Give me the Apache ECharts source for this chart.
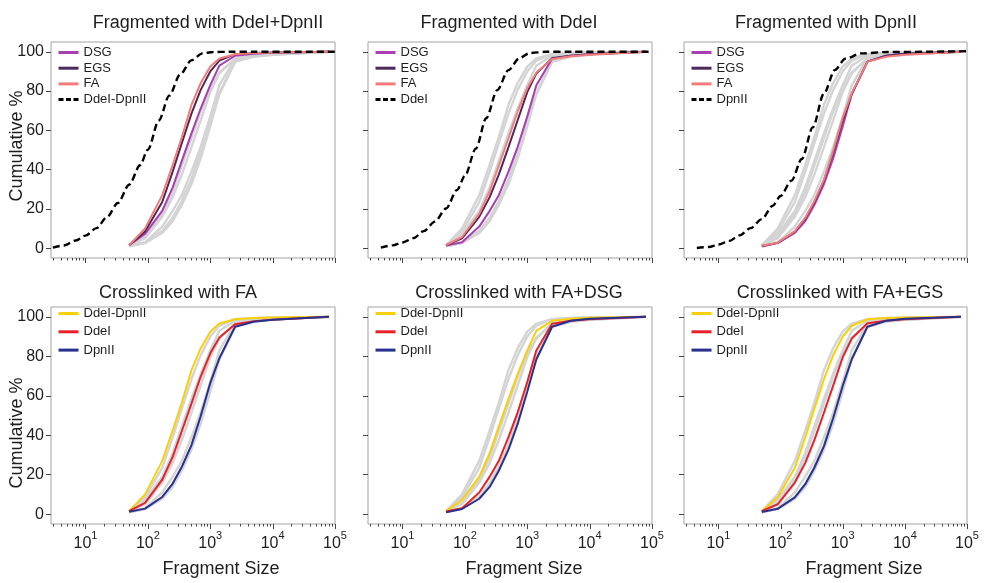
<!DOCTYPE html>
<html><head><meta charset="utf-8">
<script src="https://cdn.jsdelivr.net/npm/echarts@6/dist/echarts.min.js"></script>
<style>html,body{margin:0;padding:0;background:#fff}#c{width:986px;height:583px}</style>
</head><body><div id="c"></div>
<script>
// ---------- data ----------
const SIZES = [50, 90, 170, 250, 350, 500, 700, 1000, 1400, 2500, 5000, 10000, 80000];
// cumulative % : crosslinker x enzyme
const FA_DD  = [1.5, 10, 27, 42.5, 56.5, 73, 84, 92.5, 96.6, 98.8, 99.4, 99.7, 100];
const EGS_DD = [1.5, 8.5, 23.5, 39, 53.5, 68.5, 80.5, 90, 95.5, 98.8, 99.4, 99.7, 100];
const DSG_DD = [1.5, 7.3, 19, 31, 44.5, 58.5, 71, 83, 93, 98, 99, 99.5, 100];
const FA_DE  = [1.5, 5.7, 17.5, 29, 42, 56, 69.5, 81.5, 89.5, 96.3, 97.8, 98.5, 100];
const EGS_DE = [1.5, 5, 16, 26, 37.5, 51.5, 65, 79.5, 89, 96.8, 98, 98.8, 100];
const DSG_DE = [1.3, 3, 11, 19, 27, 39, 51.5, 67, 83, 96.5, 98, 98.8, 100];
const FA_DP  = [1.2, 2.8, 8.7, 15.5, 24, 35, 49.5, 66.5, 79, 95, 97.5, 98.5, 100];
const EGS_DP = [1.1, 2.7, 8.5, 15.2, 23.5, 34.5, 48.5, 65, 78.5, 95, 98, 99, 100];
const DSG_DP = [0.9, 2.6, 7.8, 13.8, 22, 32.7, 45.6, 62, 78.5, 95, 98, 99, 100];

// theoretical (in silico) digests
const THEO_SIZES = [3, 4.5, 7, 10, 15, 22, 33, 50, 75, 100, 150, 220, 330, 500, 750, 1100, 2000, 5000, 100000];
const THEO_DD = [0.3, 1.4, 3.9, 6.4, 10.2, 15.8, 23, 32.3, 42.2, 50.2, 65, 77.7, 88.5, 95.7, 99.2, 99.9, 100, 100, 100];
const THEO_DE = [null, 0.3, 1.45, 2.9, 5.1, 8.7, 13.5, 20.2, 29.7, 36.8, 50.7, 66.2, 80.5, 90.7, 96.8, 99.4, 100, 100, 100];
const THEO_DP = [null, 0.1, 0.6, 1.85, 3.7, 6.5, 10.2, 14.8, 21.6, 26.6, 34.4, 45.4, 61.5, 78.8, 90.8, 96.5, 99.2, 99.9, 100.3];

const Y_TICKS = [0, 20, 40, 60, 80, 100];
const X_TICKS = [10, 100, 1000, 10000, 100000];
const TITLES = ['Fragmented with DdeI+DpnII', 'Fragmented with DdeI', 'Fragmented with DpnII',
                'Crosslinked with FA', 'Crosslinked with FA+DSG', 'Crosslinked with FA+EGS'];

// ---------- styling / layout ----------
const FONT = '"Liberation Sans", Arial, Helvetica, sans-serif';
const TXT = '#1e1e1e';
const COL = { DSG: '#a640b0', EGS: '#4d2a5c', FA: '#f47c7c', DD: '#f7d008', DE: '#e8202a', DP: '#27328f', GRAY: '#d4d4d4' };
const GRIDS = [
  { left: 51, top: 42, width: 284, height: 216 },
  { left: 368, top: 42, width: 284, height: 216 },
  { left: 684, top: 42, width: 283, height: 216 },
  { left: 51, top: 307, width: 284, height: 217 },
  { left: 368, top: 307, width: 284, height: 217 },
  { left: 684, top: 307, width: 283, height: 217 }
];
const TITLE_POS = [[208, 23], [509, 23], [826, 23], [178, 293], [519, 293], [840, 293]];
const XNAME_POS = [[221, 569], [524, 569], [864, 569]];
const YNAME_POS = [[17, 146], [17, 433]];
const ICON_SOLID = 'path://M0,0H20V3H0Z';
const ICON_DASH = 'path://M0,0H5V3H0Z M7.5,0H12.5V3H7.5Z M15,0H20V3H15Z';

const ALL = { FA_DD, EGS_DD, DSG_DD, FA_DE, EGS_DE, DSG_DE, FA_DP, EGS_DP, DSG_DP };
const PANELS = [
  { colored: [['DSG', 'DSG_DD', COL.DSG], ['EGS', 'EGS_DD', COL.EGS], ['FA', 'FA_DD', COL.FA]], theo: ['DdeI-DpnII', THEO_DD] },
  { colored: [['DSG', 'DSG_DE', COL.DSG], ['EGS', 'EGS_DE', COL.EGS], ['FA', 'FA_DE', COL.FA]], theo: ['DdeI', THEO_DE] },
  { colored: [['DSG', 'DSG_DP', COL.DSG], ['EGS', 'EGS_DP', COL.EGS], ['FA', 'FA_DP', COL.FA]], theo: ['DpnII', THEO_DP] },
  { colored: [['xl:DdeI-DpnII', 'FA_DD', COL.DD], ['xl:DdeI', 'FA_DE', COL.DE], ['xl:DpnII', 'FA_DP', COL.DP]] },
  { colored: [['xl:DdeI-DpnII', 'DSG_DD', COL.DD], ['xl:DdeI', 'DSG_DE', COL.DE], ['xl:DpnII', 'DSG_DP', COL.DP]] },
  { colored: [['xl:DdeI-DpnII', 'EGS_DD', COL.DD], ['xl:DdeI', 'EGS_DE', COL.DE], ['xl:DpnII', 'EGS_DP', COL.DP]] }
];

const MINOR_X_TICKS = [];
[1, 10, 100, 1000, 10000].forEach(d => { for (let k = 2; k <= 9; k++) if (k * d >= 2.8) MINOR_X_TICKS.push(k * d); });
const TICK_DATA = X_TICKS.map(v => [v, 5]).concat(MINOR_X_TICKS.map(v => [v, 2.5]));

function pairs(xs, ys) { return xs.map((x, i) => [x, ys[i]]).filter(d => d[1] !== null); }

const series = [];
const legends = [];
PANELS.forEach((p, i) => {
  const coloredKeys = p.colored.map(c => c[1]);
  Object.keys(ALL).forEach(k => {
    if (coloredKeys.indexOf(k) >= 0) return;
    series.push({ type: 'line', xAxisIndex: i, yAxisIndex: i, data: pairs(SIZES, ALL[k]), symbol: 'none',
      lineStyle: { color: COL.GRAY, width: 2.4 }, z: 2, silent: true });
  });
  p.colored.forEach(c => {
    series.push({ type: 'line', name: c[0], xAxisIndex: i, yAxisIndex: i, data: pairs(SIZES, ALL[c[1]]), symbol: 'none',
      color: c[2], lineStyle: { color: c[2], width: 2 }, z: 3, silent: true });
  });
  const items = p.colored.map(c => ({ name: c[0], icon: ICON_SOLID }));
  if (p.theo) {
    series.push({ type: 'line', name: p.theo[0], xAxisIndex: i, yAxisIndex: i, data: pairs(THEO_SIZES, p.theo[1]), symbol: 'none',
      smooth: 0.3, smoothMonotone: 'x', color: '#000', lineStyle: { color: '#000', width: 2.4, type: [7, 4] }, z: 4, silent: true });
    items.push({ name: p.theo[0], icon: ICON_DASH });
  }
  series.push({ type: 'custom', xAxisIndex: i, yAxisIndex: i, data: TICK_DATA, clip: false, silent: true, z: 5,
    renderItem: (params, api) => {
      const pt = api.coord([api.value(0), -5]);
      const x = Math.round(pt[0]) + 0.5;
      return { type: 'line', shape: { x1: x, y1: pt[1], x2: x, y2: pt[1] + api.value(1) }, style: { stroke: '#444', lineWidth: 1 } };
    } });
  const top = i < 3;
  legends.push({ data: items, orient: 'vertical', align: 'left', left: GRIDS[i].left + 7.5, top: top ? 45 : 306, padding: 0,
    itemWidth: 20, itemHeight: 3, itemGap: top ? 0.7 : 3.3, selectedMode: false,
    itemStyle: { borderWidth: 0 },
    textStyle: { fontSize: 13, color: TXT, fontFamily: FONT, lineHeight: 15, align: 'left' },
    formatter: n => n.replace('xl:', '') });
});

const graphics = [];
const txtStyle = (t) => ({ text: t, fill: TXT, fontSize: 18, fontFamily: FONT, align: 'center', verticalAlign: 'middle', textAlign: 'center', textVerticalAlign: 'middle' });
TITLES.forEach((t, i) => graphics.push({ type: 'text', x: TITLE_POS[i][0], y: TITLE_POS[i][1], silent: true, style: txtStyle(t) }));
XNAME_POS.forEach(p => graphics.push({ type: 'text', x: p[0], y: p[1], silent: true, style: txtStyle('Fragment Size') }));
YNAME_POS.forEach(p => graphics.push({ type: 'text', x: p[0], y: p[1], rotation: Math.PI / 2, silent: true, style: txtStyle('Cumulative %') }));

const option = {
  animation: false,
  backgroundColor: '#fff',
  grid: GRIDS.map(g => Object.assign({ show: true, borderColor: '#a3a3a3', borderWidth: 1, backgroundColor: 'transparent', containLabel: false }, g)),
  xAxis: GRIDS.map((g, i) => ({
    type: 'log', logBase: 10, gridIndex: i, min: 2.8, max: 100000,
    axisLine: { show: false }, axisTick: { show: false }, splitLine: { show: false }, minorTick: { show: false },
    axisLabel: {
      show: i >= 3, customValues: X_TICKS, margin: 6, showMinLabel: true, showMaxLabel: true,
      formatter: v => '{b|10}{s|' + Math.round(Math.log10(v)) + '}',
      rich: { b: { fontSize: 16, fontFamily: FONT, color: TXT, lineHeight: 22, verticalAlign: 'bottom' },
              s: { fontSize: 11, fontFamily: FONT, color: TXT, lineHeight: 11, verticalAlign: 'top' } }
    }
  })),
  yAxis: GRIDS.map((g, i) => ({
    type: 'value', gridIndex: i, min: -5, max: 105,
    axisLine: { show: false }, splitLine: { show: false },
    axisTick: { show: true, customValues: Y_TICKS, length: 5, lineStyle: { color: '#444' } },
    axisLabel: { show: i % 3 === 0, customValues: Y_TICKS, fontSize: 16, fontFamily: FONT, color: TXT, margin: 7 }
  })),
  legend: legends,
  graphic: { elements: graphics },
  series
};
const chart = echarts.init(document.getElementById('c'), null, { renderer: 'canvas' });
chart.setOption(option);
</script></body></html>
